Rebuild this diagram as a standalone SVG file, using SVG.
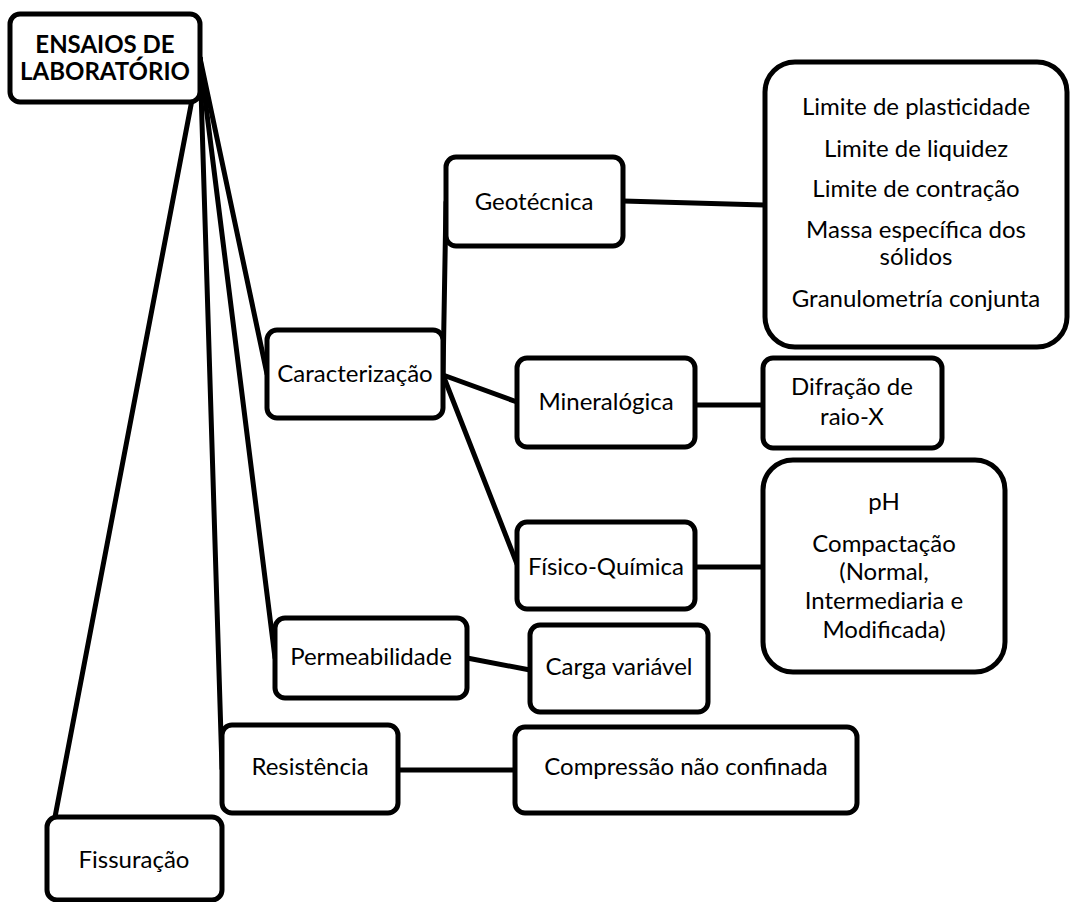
<svg xmlns="http://www.w3.org/2000/svg" width="1070" height="902" viewBox="0 0 1070 902">
<style>
.box{fill:#fff;stroke:#000;stroke-width:5}
.ln{stroke:#000;stroke-width:5;fill:none;stroke-linecap:round}
text{font-family:Lato,"Liberation Sans",sans-serif;font-size:24px;fill:#000;text-anchor:middle}
.b{font-weight:bold}
</style>
<rect width="1070" height="902" fill="#fff"/>
<g id="connectors">
<line class="ln" x1="200" y1="58" x2="267" y2="374"/>
<line class="ln" x1="200" y1="58" x2="275" y2="658"/>
<line class="ln" x1="200" y1="58" x2="222" y2="769"/>
<line class="ln" x1="200" y1="58" x2="55" y2="817"/>
<line class="ln" x1="443" y1="375" x2="446" y2="202"/>
<line class="ln" x1="443" y1="375" x2="517" y2="402"/>
<line class="ln" x1="443" y1="375" x2="517" y2="564"/>
<line class="ln" x1="623" y1="201" x2="765" y2="205"/>
<line class="ln" x1="695" y1="405" x2="763" y2="405"/>
<line class="ln" x1="695" y1="567" x2="763" y2="567"/>
<line class="ln" x1="467" y1="658" x2="530" y2="670"/>
<line class="ln" x1="398" y1="770" x2="515" y2="770"/>
</g>
<g id="root"><rect class="box" x="10" y="14" width="190" height="88" rx="10"/><text class="b" x="105" y="53">ENSAIOS DE</text><text class="b" x="105" y="80">LABORATÓRIO</text></g>
<g id="caracterizacao"><rect class="box" x="267" y="330" width="176" height="88" rx="10"/><text x="355" y="382">Caracterização</text></g>
<g id="geotecnica"><rect class="box" x="446" y="157" width="177" height="89" rx="10"/><text x="534" y="210">Geotécnica</text></g>
<g id="geo-list"><rect class="box" x="765" y="62" width="302" height="285" rx="30"/>
<text x="916" y="115">Limite de plasticidade</text>
<text x="916" y="157">Limite de liquidez</text>
<text x="916" y="197">Limite de contração</text>
<text x="916" y="238">Massa específica dos</text>
<text x="916" y="265">sólidos</text>
<text x="916" y="307">Granulometría conjunta</text></g>
<g id="mineralogica"><rect class="box" x="517" y="358" width="178" height="89" rx="10"/><text x="606" y="410">Mineralógica</text></g>
<g id="difracao"><rect class="box" x="763" y="358" width="179" height="90" rx="10"/><text x="852" y="395">Difração de</text><text x="852" y="425">raio-X</text></g>
<g id="fisico-quimica"><rect class="box" x="517" y="522" width="178" height="87" rx="10"/><text x="606" y="575">Físico-Química</text></g>
<g id="ph-list"><rect class="box" x="763" y="460" width="242" height="212" rx="30"/>
<text x="884" y="510">pH</text>
<text x="884" y="552">Compactação</text>
<text x="884" y="580">(Normal,</text>
<text x="884" y="609">Intermediaria e</text>
<text x="884" y="638">Modificada)</text></g>
<g id="permeabilidade"><rect class="box" x="275" y="618" width="192" height="80" rx="10"/><text x="371" y="665">Permeabilidade</text></g>
<g id="carga"><rect class="box" x="530" y="625" width="178" height="87" rx="10"/><text x="619" y="675">Carga variável</text></g>
<g id="resistencia"><rect class="box" x="222" y="725" width="176" height="88" rx="10"/><text x="310" y="775">Resistência</text></g>
<g id="compressao"><rect class="box" x="515" y="727" width="342" height="86" rx="10"/><text x="686" y="775">Compressão não confinada</text></g>
<g id="fissuracao"><rect class="box" x="47" y="817" width="175" height="83" rx="10"/><text x="134" y="868">Fissuração</text></g>
</svg>
